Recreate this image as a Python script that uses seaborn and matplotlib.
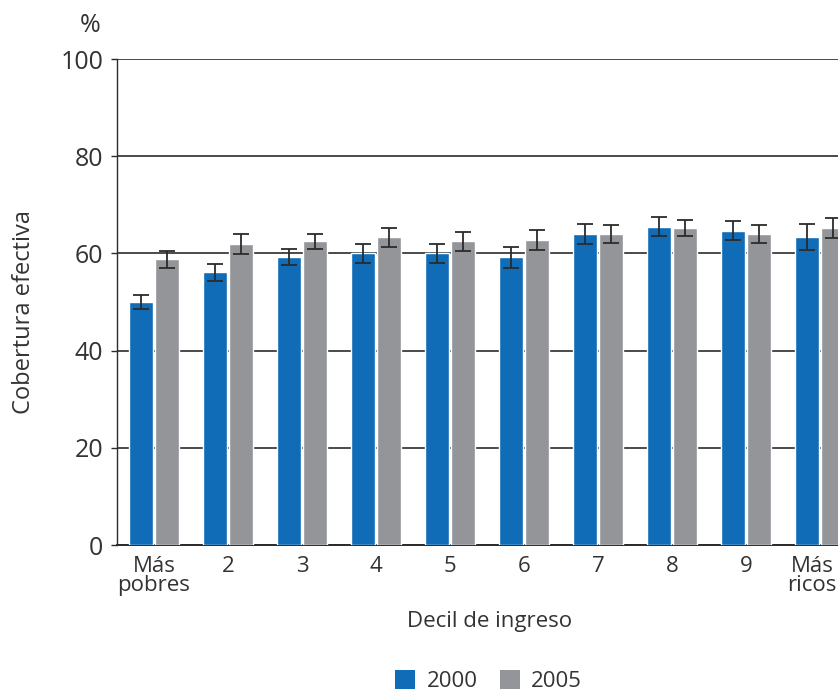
import matplotlib
matplotlib.use("Agg")
import matplotlib.pyplot as plt
import matplotlib.transforms as mtransforms
from matplotlib.patches import Patch
import numpy as np
import pandas as pd
import seaborn as sns

# Effective coverage by income decile, 2000 vs 2005 (with error margins)
deciles = ["Más\npobres", "2", "3", "4", "5", "6", "7", "8", "9", "Más\nricos"]
years = ["2000", "2005"]
cov_2000 = [50.0, 56.1, 59.3, 60.0, 60.0, 59.2, 64.0, 65.5, 64.7, 63.4]
cov_2005 = [58.8, 61.9, 62.5, 63.3, 62.5, 62.8, 64.0, 65.2, 64.0, 65.2]
err_2000 = [1.4, 1.8, 1.7, 2.0, 2.0, 2.2, 2.0, 2.0, 1.9, 2.6]
err_2005 = [1.7, 2.1, 1.5, 1.9, 2.0, 2.1, 1.9, 1.7, 1.9, 2.0]

colors = {"2000": "#106cb6", "2005": "#949598"}
text_color = "#333333"

df = pd.DataFrame({
    "decil": deciles * 2,
    "anio": [years[0]] * len(deciles) + [years[1]] * len(deciles),
    "cobertura": cov_2000 + cov_2005,
})

sns.set_theme(style="white")
plt.rcParams["font.family"] = ["Open Sans", "DejaVu Sans"]
plt.rcParams["text.color"] = text_color
plt.rcParams["axes.labelcolor"] = text_color
plt.rcParams["xtick.color"] = text_color
plt.rcParams["ytick.color"] = text_color

fig = plt.figure(figsize=(8.38, 6.95), dpi=100)
ax = fig.add_axes([0.1396, 0.2158, 0.8604, 0.6993])

sns.barplot(data=df, x="decil", y="cobertura", hue="anio", order=deciles,
            hue_order=years, palette=colors, width=0.7, gap=0.08,
            errorbar=None, saturation=1, legend=False, ax=ax, zorder=3)

# error bars on top of each bar
for cont, errs in zip(ax.containers, [err_2000, err_2005]):
    xs = [p.get_x() + p.get_width() / 2 for p in cont]
    hs = [p.get_height() for p in cont]
    ax.errorbar(xs, hs, yerr=errs, fmt="none", ecolor="#2b2b2b",
                elinewidth=1.3, capsize=6, capthick=1.3, zorder=4)

ax.set_ylim(0, 100)
ax.set_xlim(-0.5, 9.24)
ax.set_yticks([0, 20, 40, 60, 80, 100])
ax.yaxis.grid(True, color="#2b2b2b", linewidth=1.2)
ax.set_axisbelow(True)

for s in ["top", "right"]:
    ax.spines[s].set_visible(False)
ax.spines["left"].set_color("#2b2b2b")
ax.spines["left"].set_linewidth(1.0)
ax.spines["bottom"].set_color("#2b2b2b")
ax.spines["bottom"].set_linewidth(1.4)

ax.tick_params(axis="y", left=True, length=4, width=1.0, color="#2b2b2b",
               labelsize=18, pad=6)
ax.tick_params(axis="x", bottom=False, labelsize=16, pad=2)
for lab in ax.get_xticklabels():
    lab.set_linespacing(0.85)
last = ax.get_xticklabels()[-1]
last.set_transform(last.get_transform() +
                   mtransforms.ScaledTranslation(-0.08, 0, fig.dpi_scale_trans))

ax.set_xlabel("Decil de ingreso", fontsize=16)
ax.xaxis.set_label_coords(0.517, -0.135)
ax.set_ylabel("Cobertura efectiva", fontsize=17)
ax.yaxis.set_label_coords(-0.113, 0.48)

fig.text(0.108, 0.963, "%", fontsize=18, ha="center", va="center",
         color=text_color)

handles = [Patch(facecolor=colors[y], edgecolor="none", label=y) for y in years]
fig.legend(handles=handles, loc="center", bbox_to_anchor=(0.583, 0.02),
           ncol=2, frameon=False, fontsize=16, handlelength=0.9,
           handleheight=0.9, handletextpad=0.5, columnspacing=1.0)

fig.savefig("out.png", dpi=100)
